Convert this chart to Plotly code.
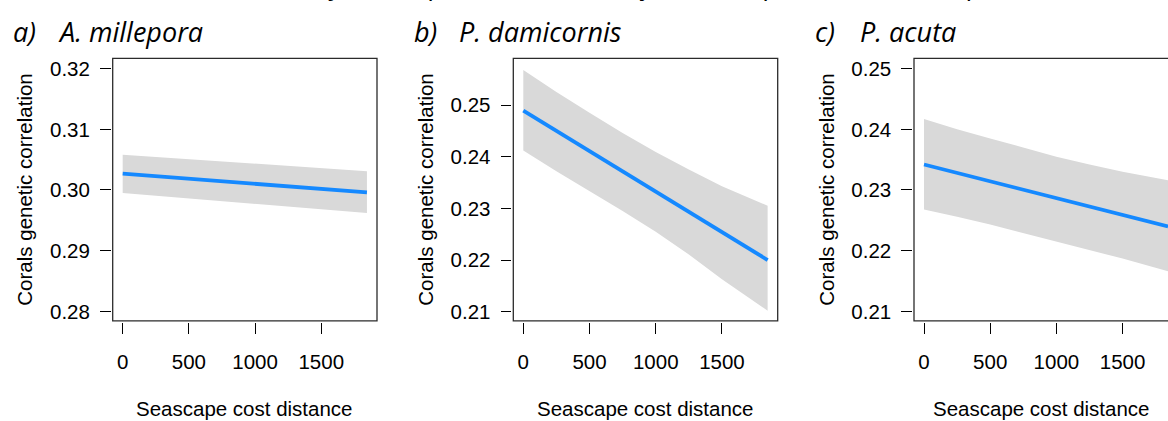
import plotly.graph_objects as go

W, H = 1168, 421

# ---- data ----
a_x     = [0, 500, 1000, 1500, 1845]
a_fit   = [0.3027, 0.3019, 0.3010, 0.3002, 0.2996]
a_upper = [0.3058, 0.3051, 0.3043, 0.3036, 0.3031]
a_lower = [0.2995, 0.2986, 0.2977, 0.2968, 0.2962]

b_x     = [0, 250, 500, 750, 1000, 1250, 1500, 1845]
b_fit   = [0.2489, 0.2450, 0.2410, 0.2372, 0.2332, 0.2293, 0.2254, 0.2200]
b_upper = [0.2568, 0.2525, 0.2485, 0.2446, 0.2409, 0.2375, 0.2343, 0.2305]
b_lower = [0.2412, 0.2372, 0.2333, 0.2295, 0.2255, 0.2211, 0.2163, 0.2102]

c_x     = [0, 250, 500, 750, 1000, 1250, 1500, 1843]
c_fit   = [0.2342, 0.2328, 0.2314, 0.2300, 0.2287, 0.2273, 0.2259, 0.2240]
c_upper = [0.2417, 0.2400, 0.2385, 0.2370, 0.2355, 0.2342, 0.2330, 0.2316]
c_lower = [0.2268, 0.2256, 0.2243, 0.2230, 0.2216, 0.2201, 0.2187, 0.2166]

panel_letters = ["a)", "b)", "c)"]
species = ["A. millepora", "P. damicornis", "P. acuta"]
y_ticks = [[0.28, 0.29, 0.30, 0.31, 0.32],
           [0.21, 0.22, 0.23, 0.24, 0.25],
           [0.21, 0.22, 0.23, 0.24, 0.25]]
x_ticks = [0, 500, 1000, 1500]
y_title = "Corals genetic correlation"
x_title = "Seascape cost distance"
header = "Genetic correlation by seascape (cost distance) for three species (a: A. millepora, b: P. damicornis, c: P. acuta)"

# ---- layout geometry (pixels) ----
def px(p):
    return p / W

def py(p):
    return 1 - p / H

frame_left = [112.7, 513.3, 914.0]
frame_right = [377.0, 777.7, 1168.0]
frame_top, frame_bottom = 57.0, 322.0
x_ranges = [[-75.5, 1921], [-75.5, 1921], [-75.5, 1843]]
y_ranges = [[0.27842, 0.32168], [0.20822, 0.25901], [0.20842, 0.25168]]

series = [
    (a_x, a_fit, a_upper, a_lower),
    (b_x, b_fit, b_upper, b_lower),
    (c_x, c_fit, c_upper, c_lower),
]

BAND = "#D9D9D9"
LINE = "#1589FF"
TXT = "Liberation Sans, Arial, sans-serif"
TFONT = "Open Sans"

fig = go.Figure()
shapes = []
annotations = []
layout = {}

for i, (xs, fit, up, lo) in enumerate(series):
    n = "" if i == 0 else str(i + 1)
    xa, ya = "x" + n, "y" + n
    fig.add_trace(go.Scatter(
        x=list(xs) + list(xs)[::-1], y=list(up) + list(lo)[::-1],
        xaxis=xa, yaxis=ya, fill="toself", fillcolor=BAND,
        line=dict(width=0), mode="lines",
        hoverinfo="skip", showlegend=False))
    fig.add_trace(go.Scatter(
        x=xs, y=fit, xaxis=xa, yaxis=ya, mode="lines",
        line=dict(color=LINE, width=3.8), showlegend=False))

    layout["xaxis" + n] = dict(
        domain=[px(frame_left[i]), px(frame_right[i])],
        range=x_ranges[i], anchor="free", position=py(323.5),
        showgrid=False, zeroline=False, showline=False,
        ticks="outside", ticklen=11, tickwidth=1, tickcolor="black",
        tickvals=x_ticks, ticktext=[str(v) for v in x_ticks],
        ticklabelstandoff=10,
        tickfont=dict(family=TXT, size=20.5, color="black"))
    layout["yaxis" + n] = dict(
        domain=[py(frame_bottom), py(frame_top)],
        range=y_ranges[i], anchor="free", position=px(frame_left[i] - 2.2),
        showgrid=False, zeroline=False, showline=False,
        ticks="outside", ticklen=10.5, tickwidth=1, tickcolor="black",
        tickvals=y_ticks[i], ticktext=["%.2f" % v for v in y_ticks[i]],
        ticklabelstandoff=6,
        tickfont=dict(family=TXT, size=20.5, color="black"))

    x1 = 1.0 if i < 2 else 1.2
    shapes.append(dict(type="rect", xref=xa + " domain", yref=ya + " domain",
                       x0=0, x1=x1, y0=0, y1=1,
                       line=dict(color="#2b2b2b", width=1.3), layer="above"))

    off = 401 * i
    annotations.append(dict(text="<i>%s</i>" % panel_letters[i], xref="paper", yref="paper",
                            x=px(10.5 + off), y=py(29.5), xanchor="left", yanchor="middle",
                            showarrow=False,
                            font=dict(family=TFONT, size=27, color="black")))
    annotations.append(dict(text="<i>%s</i>" % species[i], xref="paper", yref="paper",
                            x=px(55.5 + off), y=py(29.5), xanchor="left", yanchor="middle",
                            showarrow=False,
                            font=dict(family=TFONT, size=27, color="black")))
    cx = (frame_left[i] + min(frame_right[i], frame_left[i] + 264.3)) / 2
    annotations.append(dict(text=x_title, xref="paper", yref="paper",
                            x=px(cx), y=py(410.5), xanchor="center", yanchor="middle",
                            showarrow=False,
                            font=dict(family=TXT, size=20.5, color="black")))
    annotations.append(dict(text=y_title, xref="paper", yref="paper",
                            x=px(25 + off), y=py(189.5), xanchor="center", yanchor="middle",
                            textangle=-90, showarrow=False,
                            font=dict(family=TXT, size=20.5, color="black")))

# header line that is cut off at the top edge of the image (only descenders show)
annotations.append(dict(text="<i>%s</i>" % header,
                        xref="paper", yref="paper", x=px(80), y=py(2), xanchor="left",
                        yanchor="bottom", showarrow=False,
                        font=dict(family=TFONT, size=27, color="black")))

fig.update_layout(
    width=W, height=H, autosize=False,
    margin=dict(l=0, r=0, t=0, b=0),
    paper_bgcolor="white", plot_bgcolor="white",
    shapes=shapes, annotations=annotations, showlegend=False,
    **layout)

fig.write_html("out.html")
